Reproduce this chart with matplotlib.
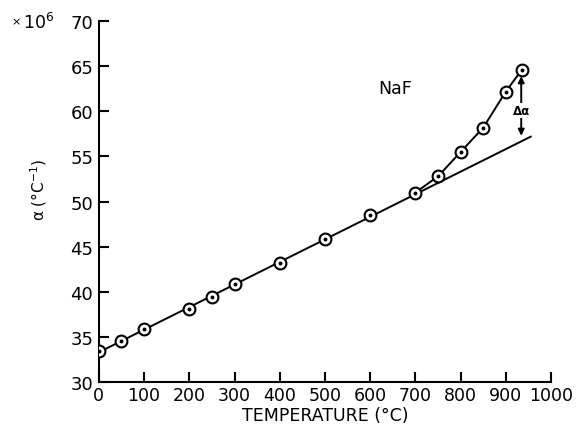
import matplotlib.pyplot as plt

plt.rcParams['font.family'] = ['DejaVu Sans']

# measured points (temperature in C, alpha x 10^6 per C)
temp = [0, 50, 100, 200, 250, 300, 400, 500, 600, 700, 750, 800, 850, 900, 935]
alpha = [33.4, 34.5, 35.9, 38.1, 39.4, 40.9, 43.2, 45.9, 48.5, 51.0, 52.8, 55.5, 58.2, 62.2, 64.6]

# extrapolated straight line
fit_temp = [0, 955]
fit_alpha = [33.3, 57.2]

# delta alpha arrow at the last point
d_temp = 934
d_top = 63.9
d_bottom = 57.3
d_mid = 60.1

fig = plt.figure(figsize=(5.85, 4.35), dpi=100)
ax = fig.add_axes([0.169, 0.1195, 0.773, 0.8295])

ax.plot(fit_temp, fit_alpha, color='black', lw=1.4, zorder=2)
ax.plot(temp[9:], alpha[9:], color='black', lw=1.4, zorder=2)
ax.plot(temp, alpha, linestyle='none', marker='o', markersize=8.5,
        markerfacecolor='white', markeredgecolor='black', markeredgewidth=1.5, zorder=3)
ax.plot(temp, alpha, linestyle='none', marker='o', markersize=1.8,
        color='black', zorder=4)

arrow = dict(arrowstyle='-|>', color='black', lw=1.4, mutation_scale=9, shrinkA=0, shrinkB=0)
ax.annotate('', xy=(d_temp, d_top), xytext=(d_temp, d_mid + 0.7), arrowprops=arrow)
ax.annotate('', xy=(d_temp, d_bottom), xytext=(d_temp, d_mid - 0.7), arrowprops=arrow)
ax.text(d_temp, d_mid, 'Δα', fontsize=8.5, fontweight='bold', ha='center', va='center',
        bbox=dict(facecolor='white', edgecolor='none', pad=0.5))

ax.text(655, 62.6, 'NaF', fontsize=12.5, ha='center', va='center')

ax.set_xlim(0, 1000)
ax.set_ylim(30, 70)
ax.set_xticks(range(0, 1001, 100))
ax.set_yticks(range(30, 71, 5))
ax.spines['top'].set_visible(False)
ax.spines['right'].set_visible(False)
for s in ['left', 'bottom']:
    ax.spines[s].set_linewidth(1.5)
ax.tick_params(direction='in', length=7, width=1.5, labelsize=13, pad=4)
ax.tick_params(axis='x', labelsize=12.5, pad=3)

ax.set_xlabel('TEMPERATURE (°C)', fontsize=12.5, labelpad=1)
ax.set_ylabel('α (°C$^{-1}$)', fontsize=11)
ax.yaxis.set_label_coords(-0.11, 0.535)
fig.text(0.02, 0.948, '×', fontsize=8, ha='left', va='center')
fig.text(0.04, 0.948, '10$^6$', fontsize=12.5, ha='left', va='center')

fig.savefig('out.png', dpi=100)
